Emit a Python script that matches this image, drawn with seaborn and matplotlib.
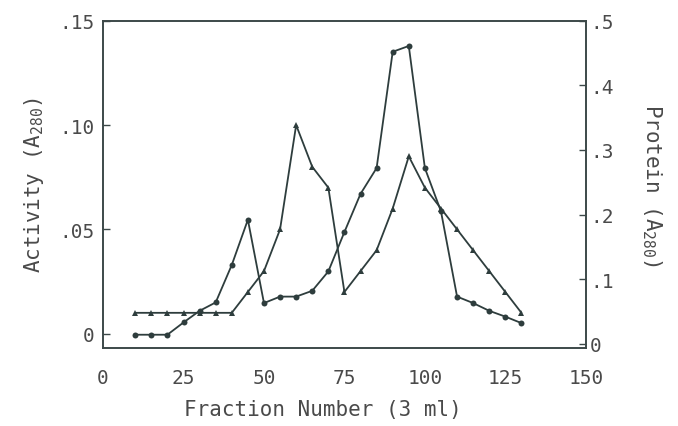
import numpy as np
import pandas as pd
import matplotlib
matplotlib.use("Agg")
import matplotlib.pyplot as plt
import seaborn as sns
from matplotlib.ticker import MultipleLocator

# ---- data ----
fractions = [10, 15, 20, 25, 30, 35, 40, 45, 50, 55, 60, 65, 70,
             75, 80, 85, 90, 95, 100, 105, 110, 115, 120, 125, 130]
activity = [0.010, 0.010, 0.010, 0.010, 0.010, 0.010, 0.010, 0.020, 0.030,
            0.050, 0.100, 0.080, 0.070, 0.020, 0.030, 0.040, 0.060, 0.085,
            0.070, 0.060, 0.050, 0.040, 0.030, 0.020, 0.010]
protein = [0.014, 0.014, 0.014, 0.033, 0.051, 0.064, 0.122, 0.192, 0.063,
           0.073, 0.073, 0.082, 0.112, 0.173, 0.232, 0.272, 0.452, 0.461,
           0.272, 0.205, 0.073, 0.063, 0.051, 0.042, 0.032]
x_ticks = [0, 25, 50, 75, 100, 125, 150]
left_ticks = [0, 0.05, 0.10, 0.15]
left_labels = ["0", ".05", ".10", ".15"]
right_ticks = [0, 0.1, 0.2, 0.3, 0.4, 0.5]
right_labels = ["0", ".1", ".2", ".3", ".4", ".5"]

df = pd.DataFrame({"fraction": fractions, "activity": activity, "protein": protein})

sns.set_style("white")
plt.rcParams["font.family"] = ["DejaVu Sans Mono", "DejaVu Sans"]
plt.rcParams["mathtext.default"] = "regular"

line_col = "#2e3d3d"
text_col = "#4a4a4a"
spine_col = "#3c4848"
fs_tick = 14
fs_lab = 15

fig = plt.figure(figsize=(6.78, 4.27), dpi=100)
ax = fig.add_axes([0.152, 0.182, 0.712, 0.767])
ax2 = ax.twinx()

sns.lineplot(data=df, x="fraction", y="activity", ax=ax, color=line_col,
             marker="^", markersize=4.3, markeredgewidth=0, linewidth=1.3)
sns.lineplot(data=df, x="fraction", y="protein", ax=ax2, color=line_col,
             marker="o", markersize=4.3, markeredgewidth=0, linewidth=1.3)

ax.set_xlim(0, 150)
ax.set_ylim(-0.007, 0.15)
ax2.set_ylim(-0.007, 0.5)

ax.set_xticks(x_ticks)
ax.set_xticklabels([str(t) for t in x_ticks])
ax.xaxis.set_minor_locator(MultipleLocator(12.5))
ax.set_yticks(left_ticks)
ax.set_yticklabels(left_labels)
ax2.set_yticks(right_ticks)
ax2.set_yticklabels(right_labels)

ax.tick_params(axis="x", which="major", direction="in", length=5, width=1,
               color=spine_col, labelsize=fs_tick, labelcolor=text_col, pad=14, top=False)
ax.tick_params(axis="x", which="minor", direction="in", length=3, width=1,
               color=spine_col, top=False)
ax.tick_params(axis="y", direction="in", length=5, width=1, color=spine_col,
               labelsize=fs_tick, labelcolor=text_col, pad=6)
ax2.tick_params(axis="y", direction="in", length=5, width=1, color=spine_col,
                labelsize=fs_tick, labelcolor=text_col, pad=3)

for a in (ax, ax2):
    for s in a.spines.values():
        s.set_color(spine_col)
        s.set_linewidth(1.2)
        s.set_visible(True)

ax.set_xlabel("Fraction Number (3 ml)", fontsize=fs_lab, color=text_col)
ax.xaxis.set_label_coords(0.455, -0.155)
ax.set_ylabel("Activity (A$_{280}$)", fontsize=fs_lab, color=text_col, labelpad=10)
ax2.set_ylabel("Protein (A$_{280}$)", fontsize=fs_lab, color=text_col,
               rotation=270, labelpad=36)

fig.savefig("out.png", dpi=100, facecolor="white")
